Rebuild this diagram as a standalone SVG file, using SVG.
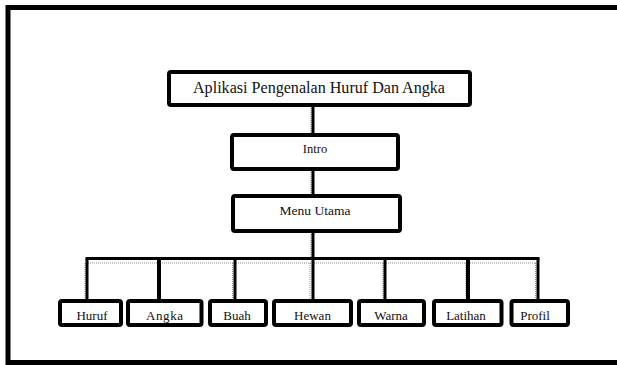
<svg xmlns="http://www.w3.org/2000/svg" width="617" height="365" viewBox="0 0 617 365">
  <style>
    .frame { fill: none; stroke: #000; stroke-width: 5; }
    .box { fill: #fff; stroke: #000; stroke-width: 4; }
    .lbl { font-family: "Liberation Serif", "Times New Roman", serif; fill: #111; text-anchor: middle; }
    .link { stroke: #000; stroke-width: 3; fill: none; }
    .link.heavy { stroke-width: 4; }
    .shade { stroke: #8a8a8a; stroke-width: 1; stroke-dasharray: 1 1; fill: none; }
  </style>
  <rect width="617" height="365" fill="#fff"/>

  <!-- outer page frame (runs off the right edge) -->
  <rect class="frame" x="8" y="7.5" width="700" height="355"/>

  <!-- connectors -->
  <g id="connectors">
    <!-- faint dotted shading beside the main lines -->
    <path class="shade" d="M311 108V133 M311 172V194 M311 234V258 M86 263H536 M85 263V299 M232.5 263V299 M310 263V299 M383 263V299 M466 263V299 M535.5 263V299"/>
    <!-- trunk -->
    <path class="link" d="M313 107V133 M313 171V194 M313 233V258.5"/>
    <!-- branch bus -->
    <path class="link" d="M85.5 258.5H539.5"/>
    <!-- drops to each menu item -->
    <path class="link" d="M87 258.5V299 M235 258.5V299 M313 258.5V299 M385 258.5V299 M538 258.5V299"/>
    <path class="link heavy" d="M159 258.5V299 M468 258.5V299"/>
  </g>

  <g id="node-title">
    <rect class="box" x="169" y="72" width="301" height="33" rx="2"/>
    <text class="lbl" x="319" y="92.5" font-size="16" textLength="252" lengthAdjust="spacingAndGlyphs">Aplikasi Pengenalan Huruf Dan Angka</text>
  </g>

  <g id="node-intro">
    <rect class="box" x="232" y="135" width="166" height="34" rx="2"/>
    <text class="lbl" x="315" y="152.5" font-size="12.5">Intro</text>
  </g>

  <g id="node-menu-utama">
    <rect class="box" x="233" y="196" width="167" height="35" rx="2"/>
    <text class="lbl" x="315" y="214.5" font-size="13" textLength="71" lengthAdjust="spacingAndGlyphs">Menu Utama</text>
  </g>

  <g id="node-huruf">
    <rect class="box" x="60" y="301" width="61" height="24" rx="2"/>
    <text class="lbl" x="92" y="319.5" font-size="13">Huruf</text>
  </g>

  <g id="node-angka">
    <rect class="box" x="128" y="301" width="73.5" height="24" rx="2"/>
    <text class="lbl" x="164.5" y="320" font-size="13" textLength="37" lengthAdjust="spacing">Angka</text>
  </g>

  <g id="node-buah">
    <rect class="box" x="210" y="301" width="56" height="24" rx="2"/>
    <text class="lbl" x="237" y="319.5" font-size="13">Buah</text>
  </g>

  <g id="node-hewan">
    <rect class="box" x="274" y="301" width="77" height="24" rx="2"/>
    <text class="lbl" x="312.5" y="319.5" font-size="13">Hewan</text>
  </g>

  <g id="node-warna">
    <rect class="box" x="359" y="301" width="65" height="24" rx="2"/>
    <text class="lbl" x="391" y="319.5" font-size="13">Warna</text>
  </g>

  <g id="node-latihan">
    <rect class="box" x="434" y="301" width="67.5" height="24" rx="2"/>
    <text class="lbl" x="466" y="319.5" font-size="13">Latihan</text>
  </g>

  <g id="node-profil">
    <rect class="box" x="511.5" y="301" width="56.5" height="24" rx="2"/>
    <text class="lbl" x="535" y="319.5" font-size="13">Profil</text>
  </g>
</svg>
